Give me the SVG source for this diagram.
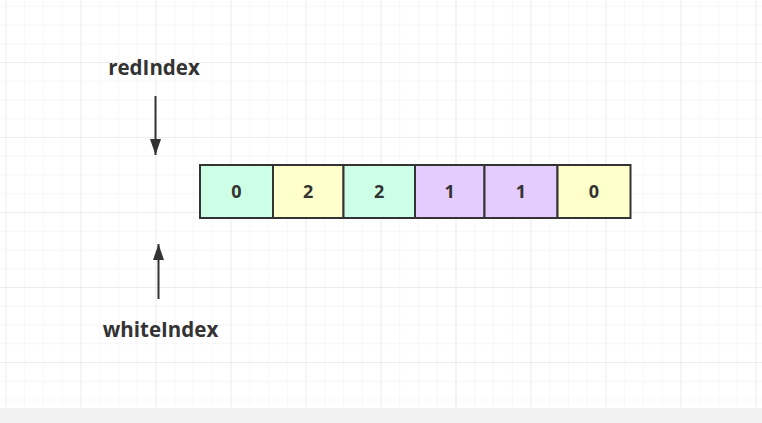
<svg xmlns="http://www.w3.org/2000/svg" width="762" height="423" viewBox="0 0 762 423">
<defs>
<pattern id="minor" x="5.5" y="5.75" width="18.75" height="18.75" patternUnits="userSpaceOnUse">
<path d="M0 0H18.75M0 0V18.75" fill="none" stroke="#f0f0f0" stroke-width="1"/>
</pattern>
<pattern id="major" x="5.5" y="-13" width="75" height="75" patternUnits="userSpaceOnUse">
<path d="M0 0H75M0 0V75" fill="none" stroke="#e3e3e3" stroke-width="1"/>
</pattern>
<marker id="ah" viewBox="0 0 16 11" refX="16" refY="5.5" markerWidth="8" markerHeight="5.5" orient="auto" markerUnits="strokeWidth">
<path d="M0 0L16 5.5L0 11Z" fill="#333"/>
</marker>
</defs>
<style>
.cell{stroke:#333;stroke-width:2}
.num{font-family:"Open Sans","Noto Sans",sans-serif;font-weight:bold;font-size:18px;fill:#333;text-anchor:middle}
.lbl{font-family:"Open Sans","Noto Sans",sans-serif;font-weight:bold;font-size:20.5px;fill:#333;text-anchor:middle}
.g{fill:#ccffe6}.y{fill:#ffffcc}.p{fill:#e5ccff}
</style>
<rect width="762" height="423" fill="#fff"/>
<rect width="762" height="408" fill="url(#minor)"/>
<rect width="762" height="408" fill="url(#major)"/>
<rect y="408" width="762" height="15" fill="#f2f2f2"/>
<g id="cells">
<g id="c0"><rect class="cell g" x="200" y="165" width="73" height="53"/><text class="num" x="236.5" y="198">0</text></g>
<g id="c1"><rect class="cell y" x="273" y="165" width="70.5" height="53"/><text class="num" x="308.2" y="198">2</text></g>
<g id="c2"><rect class="cell g" x="343.5" y="165" width="71.5" height="53"/><text class="num" x="379.2" y="198">2</text></g>
<g id="c3"><rect class="cell p" x="415" y="165" width="69.5" height="53"/><text class="num" x="449.7" y="198">1</text></g>
<g id="c4"><rect class="cell p" x="484.5" y="165" width="73" height="53"/><text class="num" x="521" y="198">1</text></g>
<g id="c5"><rect class="cell y" x="557.5" y="165" width="73" height="53"/><text class="num" x="594" y="198">0</text></g>
</g>
<g id="redIndex"><text class="lbl" x="154" y="74.5">redIndex</text></g>
<g id="whiteIndex"><text class="lbl" x="160.5" y="336.5">whiteIndex</text></g>
<g id="connectors">
<line x1="155.5" y1="96" x2="155.5" y2="155" stroke="#333" stroke-width="2" marker-end="url(#ah)"/>
<line x1="158.5" y1="299" x2="158.5" y2="244" stroke="#333" stroke-width="2" marker-end="url(#ah)"/>
</g>
</svg>
